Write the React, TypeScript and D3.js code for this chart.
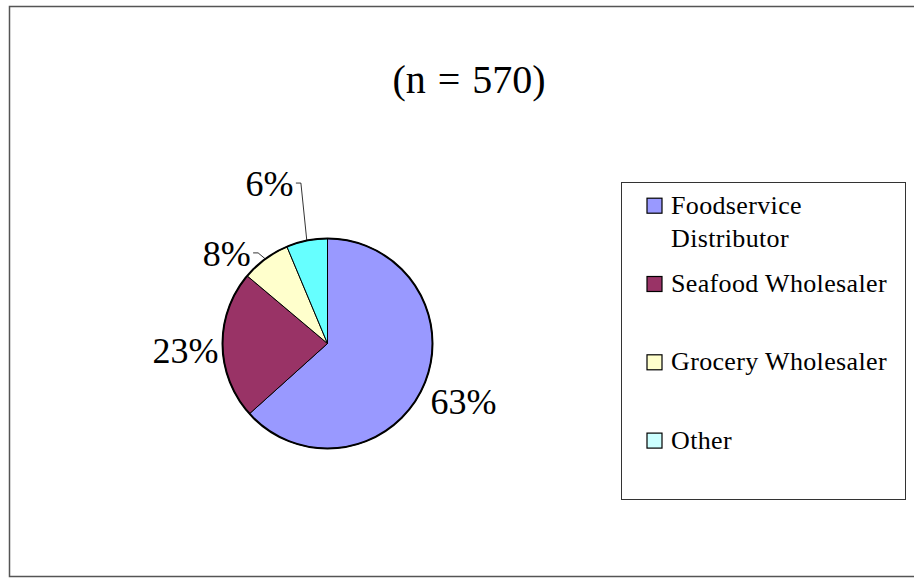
import React from "react";
import * as d3 from "d3";

const titleText = "(n = 570)";
const categories = ["Foodservice Distributor", "Seafood Wholesaler", "Grocery Wholesaler", "Other"];
const legendLines = [["Foodservice", "Distributor"], ["Seafood Wholesaler"], ["Grocery Wholesaler"], ["Other"]];
const counts = [361, 130, 43, 36];
const sliceColors = ["#9999FF", "#993366", "#FFFFCC", "#66FFFF"];
const legendColors = ["#9999FF", "#993366", "#FFFFCC", "#CCFFFF"];

const W = 914;
const H = 579;
const FONT = "'Liberation Serif', 'Times New Roman', serif";

export default function App() {
  const cx = 327.5;
  const cy = 343.5;
  const R = 105;
  const total = d3.sum(counts);
  const pie = d3.pie<number>().sort(null).startAngle(0).endAngle(2 * Math.PI);
  const arcs = pie(counts);
  const arcGen = d3.arc<d3.PieArcDatum<number>>().innerRadius(0).outerRadius(R);
  const fmt = (v: number) => `${Math.round((v / total) * 100)}%`;

  // label layout: outside (centered at radius) or leader line with offset
  const labelLayout: any[] = [
    { kind: "outside", r: 149, oy: -3 },
    { kind: "outside", r: 142, oy: 5 },
    { kind: "leader", dx: -38.7, dy: -6, half: 23.5 },
    { kind: "leader", dx: -37.4, dy: -57.5, half: 23.5 },
  ];

  const legendX = 621;
  const legendY = 182;
  const legendW = 284;
  const legendH = 317;
  const legendStep = 78.3;
  const firstSwatchY = 205.7;

  return (
    <svg
      width={W}
      height={H}
      style={{ position: "absolute", left: 0, top: 0, background: "#fff" }}
    >
      <rect x={9.5} y={6.5} width={910} height={570} fill="#fff" stroke="#555" strokeWidth={1.5} />
      <text x={469} y={93} textAnchor="middle" fontFamily={FONT} fontSize={40} fill="#000" wordSpacing={2}>
        {titleText}
      </text>
      <g transform={`translate(${cx},${cy})`}>
        {arcs.map((a, i) => (
          <path key={i} d={arcGen(a) || ""} fill={sliceColors[i]} stroke="#000" strokeWidth={1} />
        ))}
        <circle r={R} fill="none" stroke="#000" strokeWidth={2} />
        {arcs.map((a, i) => {
          const mid = (a.startAngle + a.endAngle) / 2;
          const ux = Math.sin(mid);
          const uy = -Math.cos(mid);
          const lay = labelLayout[i];
          if (lay.kind === "outside") {
            return (
              <text
                key={i}
                x={ux * lay.r}
                y={uy * lay.r + lay.oy}
                dy="0.35em"
                textAnchor="middle"
                fontFamily={FONT}
                fontSize={36}
                fill="#000"
              >
                {fmt(a.data)}
              </text>
            );
          }
          const ex = ux * R;
          const ey = uy * R;
          const lx = ex + lay.dx;
          const ly = ey + lay.dy;
          const elbowX = lx + lay.half + 8;
          const endX = lx + lay.half + 3;
          return (
            <g key={i}>
              <polyline
                points={`${ex},${ey} ${elbowX},${ly} ${endX},${ly}`}
                fill="none"
                stroke="#000"
                strokeWidth={0.8}
              />
              <text
                x={lx}
                y={ly}
                dy="0.35em"
                textAnchor="middle"
                fontFamily={FONT}
                fontSize={36}
                fill="#000"
              >
                {fmt(a.data)}
              </text>
            </g>
          );
        })}
      </g>
      <rect x={legendX + 0.5} y={legendY + 0.5} width={legendW} height={legendH} fill="#fff" stroke="#333" strokeWidth={1} />
      {categories.map((c, i) => {
        const yc = firstSwatchY + i * legendStep;
        return (
          <g key={c}>
            <rect x={647} y={yc - 7.5} width={15} height={15} fill={legendColors[i]} stroke="#000" strokeWidth={1.2} />
            <text fontFamily={FONT} fontSize={26} fill="#000" letterSpacing={0.35}>
              {legendLines[i].map((ln, j) => (
                <tspan key={j} x={671} y={yc + 8 + j * 33}>
                  {ln}
                </tspan>
              ))}
            </text>
          </g>
        );
      })}
    </svg>
  );
}
